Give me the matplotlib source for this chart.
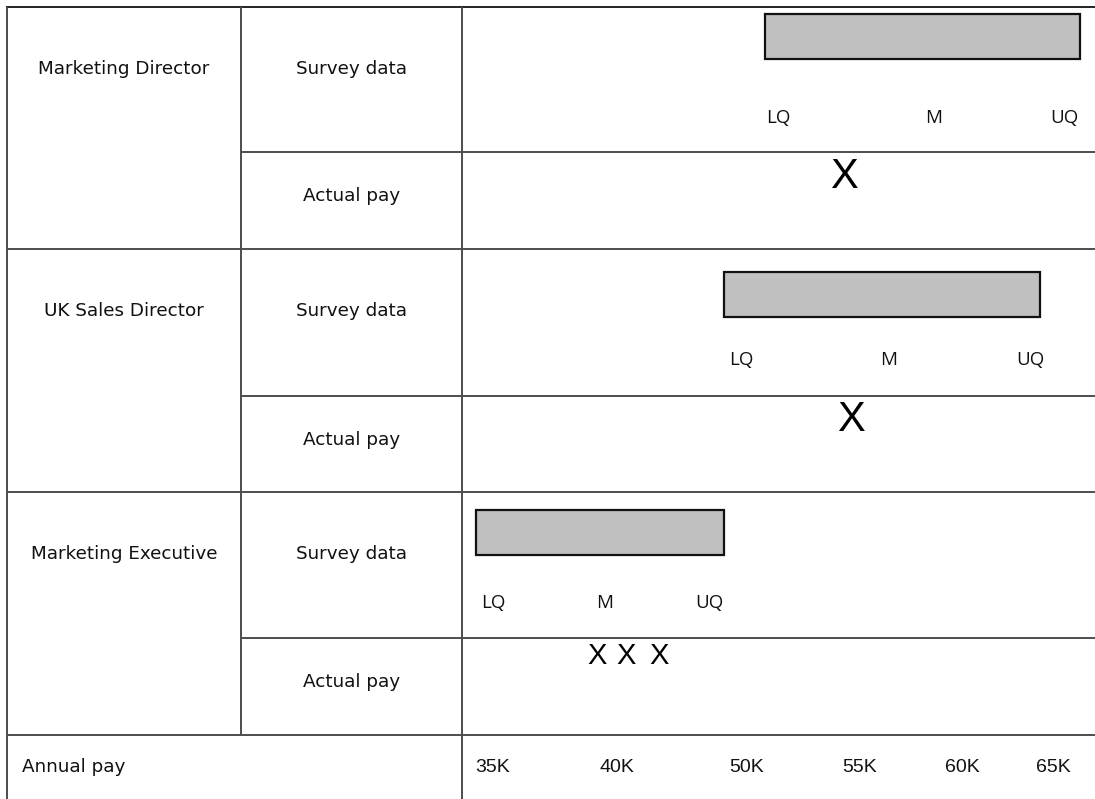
import numpy as np
import matplotlib
matplotlib.use('Agg')
import matplotlib.pyplot as plt

# data (pay in thousands)
jobs = ['Marketing Director', 'UK Sales Director', 'Marketing Executive']
lq = [50.8, 48.2, 34.3]
median = [58.6, 56.4, 39.5]
uq = [66.5, 64.3, 48.2]
actual = [[54.3], [54.6], [39.2, 40.7, 43.2]]
tick_k = [35, 40, 50, 55, 60, 65]
tick_labels = ['35K', '40K', '50K', '55K', '60K', '65K']

# layout (figure pixels)
W, H = 1095, 799
group_top = [7, 249, 492]
mid_line = [152, 396, 638]
table_bottom = 735
col_x = [7, 241, 462]
tick_px = np.array([31, 155, 285, 398, 500, 591])  # where the axis labels sit in the pay column
bar_off = [7, 23, 18]
bar_h = 45
label_off = 111
lq_pad = [1, 6, 5]
uq_pad = [-2, 4, 0]
x_off = [25, 24, 18]
x_size = [30, 30, 21]

plt.rcParams['font.family'] = ['DejaVu Sans']
line_kw = dict(color='#4d4d4d', lw=1.4, solid_capstyle='butt')

fig = plt.figure(figsize=(W / 100, H / 100), dpi=100)
ax0 = fig.add_axes([0, 0, 1, 1])
ax0.set_xlim(0, W)
ax0.set_ylim(H, 0)
ax0.axis('off')

# table grid
ax0.plot([col_x[0], W], [group_top[0], group_top[0]], color='#222222', lw=1.4)
for y in group_top[1:] + [table_bottom]:
    ax0.plot([col_x[0], W], [y, y], **line_kw)
for y in mid_line:
    ax0.plot([col_x[1], W], [y, y], **line_kw)
ax0.plot([col_x[0], col_x[0]], [group_top[0], H], **line_kw)
ax0.plot([col_x[1], col_x[1]], [group_top[0], table_bottom], **line_kw)
ax0.plot([col_x[2], col_x[2]], [group_top[0], H], **line_kw)

txt = dict(fontsize=13.2, va='center', color='#111111')
for i, job in enumerate(jobs):
    ax0.text((col_x[0] + col_x[1]) / 2, group_top[i] + 62, job, ha='center', **txt)
    ax0.text((col_x[1] + col_x[2]) / 2, group_top[i] + 62, 'Survey data', ha='center', **txt)
    ax0.text((col_x[1] + col_x[2]) / 2, mid_line[i] + 44, 'Actual pay', ha='center', **txt)
ax0.text(22, 767, 'Annual pay', ha='left', **txt)

# pay column with a piecewise scale matching the hand-placed axis labels
tk = np.array(tick_k, float)


def fwd(v):
    v = np.asarray(v, float)
    out = np.interp(v, tk, tick_px)
    s0 = (tick_px[1] - tick_px[0]) / (tk[1] - tk[0])
    s1 = (tick_px[-1] - tick_px[-2]) / (tk[-1] - tk[-2])
    out = np.where(v < tk[0], tick_px[0] + (v - tk[0]) * s0, out)
    out = np.where(v > tk[-1], tick_px[-1] + (v - tk[-1]) * s1, out)
    return out


def inv(p):
    p = np.asarray(p, float)
    out = np.interp(p, tick_px, tk)
    s0 = (tk[1] - tk[0]) / (tick_px[1] - tick_px[0])
    s1 = (tk[-1] - tk[-2]) / (tick_px[-1] - tick_px[-2])
    out = np.where(p < tick_px[0], tk[0] + (p - tick_px[0]) * s0, out)
    out = np.where(p > tick_px[-1], tk[-1] + (p - tick_px[-1]) * s1, out)
    return out


ax = fig.add_axes([col_x[2] / W, (H - table_bottom) / H,
                   (W - col_x[2]) / W, (table_bottom - group_top[0]) / H])
ax.patch.set_alpha(0)
ax.set_xscale('function', functions=(fwd, inv))
ax.set_xlim(float(inv(0)), float(inv(W - col_x[2])))
ax.set_ylim(table_bottom, group_top[0])
for s in ax.spines.values():
    s.set_visible(False)
ax.set_yticks([])
ax.set_xticks(tick_k, tick_labels)
ax.minorticks_off()
for lab in ax.get_xticklabels():
    lab.set_family(['Liberation Sans', 'DejaVu Sans'])
ax.tick_params(axis='x', length=0, pad=17, labelsize=14, labelcolor='#111111')

q_txt = dict(fontsize=13.5, family=['Open Sans', 'DejaVu Sans'], va='center', color='#111111')
for i in range(len(jobs)):
    top = group_top[i] + bar_off[i]
    ax.barh(top + bar_h / 2, uq[i] - lq[i], left=lq[i], height=bar_h,
            color='#c0c0c0', edgecolor='#111111', lw=1.6)
    ly = group_top[i] + label_off
    ax.annotate('LQ', (lq[i], ly), xytext=(lq_pad[i], 0), textcoords='offset pixels',
                ha='left', **q_txt)
    ax.text(median[i], ly, 'M', ha='center', **q_txt)
    ax.annotate('UQ', (uq[i], ly), xytext=(uq_pad[i], 0), textcoords='offset pixels',
                ha='right', **q_txt)
    for v in actual[i]:
        ax.text(v, mid_line[i] + x_off[i], 'X', ha='center', va='center',
                fontsize=x_size[i], family=['Liberation Sans', 'DejaVu Sans'], color='black')

fig.savefig('out.png', dpi=100)
